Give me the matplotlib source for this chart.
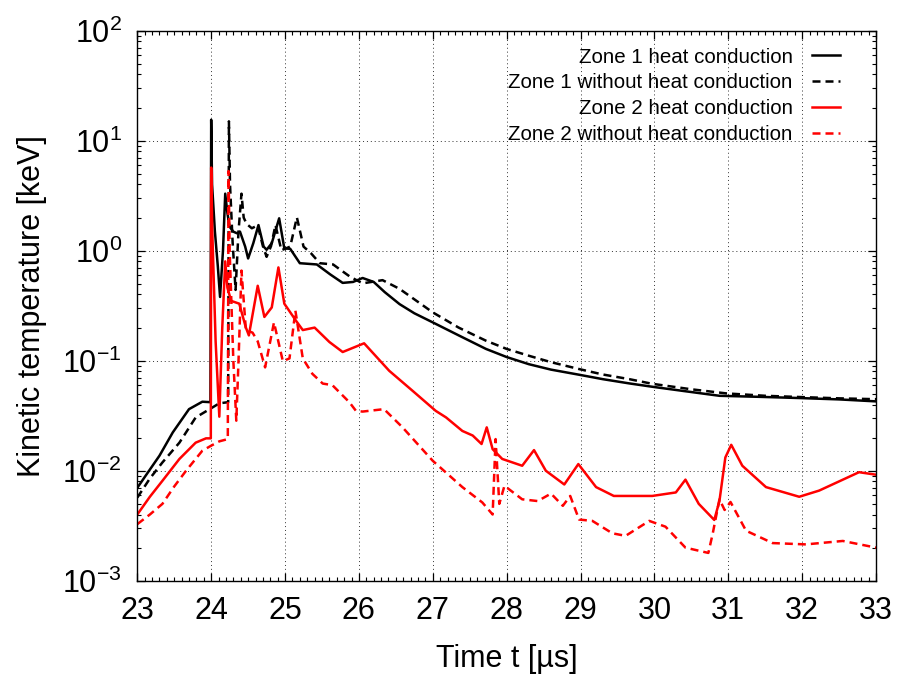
"""Kinetic temperature of zone 1 / zone 2, with and without heat conduction."""

import matplotlib

matplotlib.use("Agg")
import matplotlib.pyplot as plt
from matplotlib.ticker import MultipleLocator, LogLocator, NullFormatter

plt.rcParams["font.family"] = ["Liberation Sans", "DejaVu Sans"]
plt.rcParams["mathtext.fontset"] = "custom"
plt.rcParams["mathtext.rm"] = "Liberation Sans"
plt.rcParams["mathtext.it"] = "Liberation Sans:italic"
plt.rcParams["axes.unicode_minus"] = False

# --- data (time in us, temperature in keV) ---
z1_hc_t = [23.0, 23.15, 23.3, 23.48, 23.7, 23.88, 23.99, 24.0, 24.012, 24.05,
           24.09, 24.12, 24.16, 24.19, 24.22, 24.25, 24.30, 24.35, 24.39, 24.46,
           24.50, 24.57, 24.64, 24.71, 24.75, 24.82, 24.92, 24.99, 25.07, 25.20,
           25.43, 25.61, 25.78, 25.92, 26.05, 26.2, 26.35, 26.55, 26.75, 27.0,
           27.35, 27.72, 28.0, 28.3, 28.6, 28.98, 29.3, 29.66, 29.97, 30.4,
           30.88, 31.4, 31.96, 32.5, 33.0]
z1_hc_v = [0.0070, 0.0098, 0.0137, 0.0223, 0.0363, 0.0424, 0.042, 15.5, 4.0, 1.5,
           0.72, 0.38, 1.01, 3.3, 2.19, 1.65, 1.49, 1.44, 1.49, 1.09,
           0.85, 1.17, 1.71, 1.09, 1.02, 1.17, 1.97, 1.05, 1.04, 0.77,
           0.75, 0.61, 0.51, 0.52, 0.565, 0.52, 0.42, 0.327, 0.27, 0.223,
           0.17, 0.128, 0.108, 0.093, 0.083, 0.0746, 0.068, 0.0622, 0.058, 0.053,
           0.048, 0.047, 0.0458, 0.0445, 0.0427]

z1_nohc_t = [23.0, 23.17, 23.34, 23.57, 23.79, 24.0, 24.11, 24.23, 24.24, 24.255,
             24.29, 24.33, 24.37, 24.41, 24.44, 24.48, 24.55, 24.63, 24.7, 24.75,
             24.81, 24.87, 24.95, 25.07, 25.16, 25.25, 25.35, 25.47, 25.65, 25.88,
             26.05, 26.32, 26.55, 27.0, 27.35, 27.72, 28.0, 28.3, 28.6, 28.98,
             29.3, 29.66, 29.97, 30.5, 30.97, 31.5, 31.96, 32.5, 33.0]
z1_nohc_v = [0.0057, 0.0085, 0.0119, 0.018, 0.0305, 0.037, 0.041, 0.042, 15.0, 4.0,
             1.2, 0.44, 1.5, 3.3, 2.0, 1.75, 1.6, 1.7, 1.1, 0.88,
             1.1, 1.71, 1.01, 1.09, 2.01, 1.09, 0.95, 0.77, 0.75, 0.58,
             0.505, 0.54, 0.45, 0.275, 0.2, 0.152, 0.128, 0.111, 0.097, 0.084,
             0.075, 0.068, 0.0617, 0.055, 0.0505, 0.048, 0.0468, 0.0455, 0.0447]

z2_hc_t = [23.0, 23.17, 23.34, 23.57, 23.79, 23.93, 23.995, 24.0, 24.015, 24.06,
           24.11, 24.15, 24.19, 24.22, 24.27, 24.38, 24.47, 24.51, 24.63, 24.72,
           24.82, 24.91, 24.99, 25.15, 25.24, 25.40, 25.6, 25.78, 26.07, 26.41,
           26.73, 27.04, 27.18, 27.40, 27.54, 27.66, 27.73, 27.81, 27.94, 28.21,
           28.37, 28.53, 28.78, 28.97, 29.21, 29.45, 29.97, 30.29, 30.42, 30.6,
           30.81, 30.88, 30.96, 31.04, 31.19, 31.51, 31.96, 32.23, 32.77, 33.0]
z2_hc_v = [0.004, 0.0058, 0.0081, 0.0128, 0.018, 0.0197, 0.0197, 5.7, 1.5, 0.15,
           0.031, 0.2, 0.8, 0.46, 0.35, 0.33, 0.2, 0.17, 0.48, 0.25,
           0.305, 0.705, 0.33, 0.23, 0.19, 0.2, 0.148, 0.12, 0.144, 0.081,
           0.053, 0.035, 0.0305, 0.023, 0.0209, 0.0175, 0.0248, 0.0157, 0.0128, 0.0111,
           0.0154, 0.01, 0.0075, 0.0115, 0.0071, 0.0059, 0.0059, 0.00635, 0.0083, 0.005,
           0.00357, 0.0053, 0.0132, 0.0172, 0.0111, 0.0071, 0.0058, 0.0066, 0.0097, 0.0092]

z2_nohc_t = [23.0, 23.17, 23.34, 23.5, 23.66, 23.88, 24.0, 24.11, 24.225, 24.235,
             24.25, 24.3, 24.34, 24.37, 24.41, 24.47, 24.56, 24.63, 24.73, 24.85,
             24.97, 25.06, 25.14, 25.24, 25.37, 25.51, 25.64, 25.87, 25.96, 26.05,
             26.34, 26.59, 27.0, 27.4, 27.67, 27.81, 27.85, 27.9, 27.97, 28.21,
             28.42, 28.6, 28.76, 28.86, 28.98, 29.16, 29.43, 29.61, 29.93, 30.15,
             30.42, 30.73, 30.79, 30.88, 30.95, 31.03, 31.24, 31.6, 32.05, 32.55, 33.0]
z2_nohc_v = [0.00327, 0.004, 0.005, 0.0072, 0.01, 0.0152, 0.0169, 0.0185, 0.0194, 5.3,
             1.0, 0.1, 0.0285, 0.1, 0.66, 0.19, 0.18, 0.15, 0.087, 0.223,
             0.099, 0.105, 0.285, 0.105, 0.076, 0.062, 0.06, 0.042, 0.035, 0.0345,
             0.0363, 0.0248, 0.0123, 0.0071, 0.00515, 0.004, 0.0194, 0.005, 0.0073, 0.0055,
             0.0053, 0.0062, 0.0048, 0.0059, 0.0036, 0.0035, 0.0027, 0.00256, 0.0035, 0.0031,
             0.002, 0.00179, 0.0027, 0.0055, 0.0044, 0.0052, 0.00285, 0.0022, 0.00214, 0.0023, 0.0020]

labels = ["Zone 1 heat conduction", "Zone 1 without heat conduction",
          "Zone 2 heat conduction", "Zone 2 without heat conduction"]

fig = plt.figure(figsize=(9.01, 6.79), dpi=100)
ax = fig.add_axes([0.1524, 0.1447, 0.8199, 0.8101])

dash = (3.2, 2.0)
lw = 1.8
ax.plot(z1_hc_t, z1_hc_v, color="black", lw=lw, label=labels[0])
ax.plot(z1_nohc_t, z1_nohc_v, color="black", lw=lw, dashes=dash, label=labels[1])
ax.plot(z2_hc_t, z2_hc_v, color="red", lw=lw, label=labels[2])
ax.plot(z2_nohc_t, z2_nohc_v, color="red", lw=lw, dashes=dash, label=labels[3])

ax.set_yscale("log")
ax.set_xlim(23, 33)
ax.set_ylim(1e-3, 1e2)
ax.xaxis.set_major_locator(MultipleLocator(1))
ax.xaxis.set_minor_locator(MultipleLocator(0.1))
ax.yaxis.set_major_locator(LogLocator(base=10, numticks=10))
ax.yaxis.set_minor_locator(LogLocator(base=10, subs=range(2, 10), numticks=20))
ax.yaxis.set_minor_formatter(NullFormatter())

ax.tick_params(which="both", direction="in", top=True, right=True, labelsize=22)
ax.tick_params(which="major", length=6, width=0.9, pad=11)
ax.tick_params(which="minor", length=3, width=0.8)
ax.grid(True, which="major", color="#333333", lw=0.7, linestyle=(0, (1, 3)))
for s in ax.spines.values():
    s.set_linewidth(1.0)

ax.set_xlabel("Time t [µs]", fontsize=22, labelpad=13)
ax.set_ylabel("Kinetic temperature [keV]", fontsize=22, labelpad=11)

ax.legend(loc="upper right", bbox_to_anchor=(0.932, 0.930),
          bbox_transform=fig.transFigure, frameon=False, markerfirst=False,
          fontsize=14.8, handlelength=1.36, handletextpad=0.92,
          labelspacing=0.33, borderpad=0, borderaxespad=0)

fig.savefig("out.png", dpi=100)
plt.close(fig)
